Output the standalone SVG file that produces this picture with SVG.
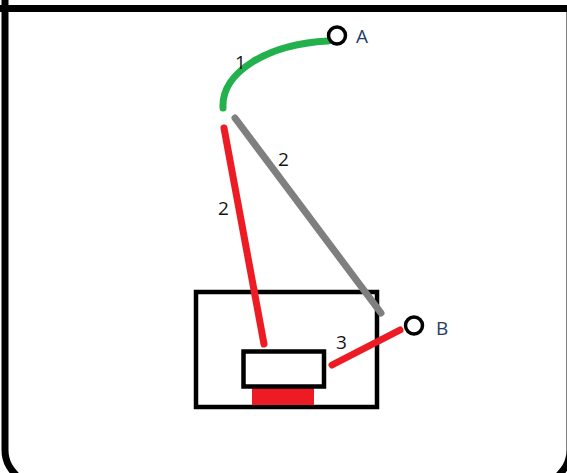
<svg xmlns="http://www.w3.org/2000/svg" width="567" height="473" viewBox="0 0 567 473">
  <style>
    .frame { fill: none; stroke: #000; stroke-width: 7; }
    .box { fill: #fff; stroke: #000; stroke-width: 4.5; }
    .wire { fill: none; stroke-width: 7; stroke-linecap: round; }
    .red { stroke: #ed1c24; }
    .green { stroke: #22b14c; }
    .gray { stroke: #7f7f7f; }
    .term { fill: #fff; stroke: #000; stroke-width: 3.5; }
    .num { font-family: "Open Sans", "Liberation Sans", sans-serif; font-size: 19px; fill: #141414; }
    .tag { font-family: "Open Sans", "Liberation Sans", sans-serif; font-size: 19px; fill: #1f3d66; }
  </style>
  <rect width="567" height="473" fill="#fff"/>

  <!-- outer enclosure -->
  <g id="enclosure">
    <line class="frame" x1="0" y1="8.5" x2="567" y2="8.5"/>
    <path class="frame" d="M5,0 V450 C5,462 10,470 22,481"/>
    <path class="frame" d="M570,12 V450 C570,462 565,470 553,481"/>
  </g>

  <!-- housing with inner unit -->
  <g id="housing">
    <rect class="box" x="196" y="292" width="181" height="115"/>
  </g>
  <g id="unit">
    <rect x="252" y="388" width="62" height="17" fill="#ed1c24"/>
    <rect class="box" x="243.5" y="351.5" width="80.5" height="35"/>
  </g>

  <!-- connectors -->
  <g id="connectors">
    <path class="wire green" d="M223,108 C221,72 268,44 328,41"/>
    <line class="wire gray" x1="235" y1="118" x2="381" y2="313"/>
    <line class="wire red" x1="224" y1="128" x2="264" y2="344"/>
    <line class="wire red" x1="332" y1="365" x2="400" y2="330"/>
  </g>

  <!-- terminals -->
  <g id="terminal-a">
    <circle class="term" cx="337" cy="35.5" r="8.5"/>
    <text class="tag" x="356" y="43">A</text>
  </g>
  <g id="terminal-b">
    <circle class="term" cx="414" cy="325.5" r="8.5"/>
    <text class="tag" x="436" y="335">B</text>
  </g>

  <!-- wire labels -->
  <g id="labels">
    <text class="num" x="235" y="69">1</text>
    <text class="num" x="278" y="166">2</text>
    <text class="num" x="218" y="215">2</text>
    <text class="num" x="336" y="349">3</text>
  </g>
</svg>
